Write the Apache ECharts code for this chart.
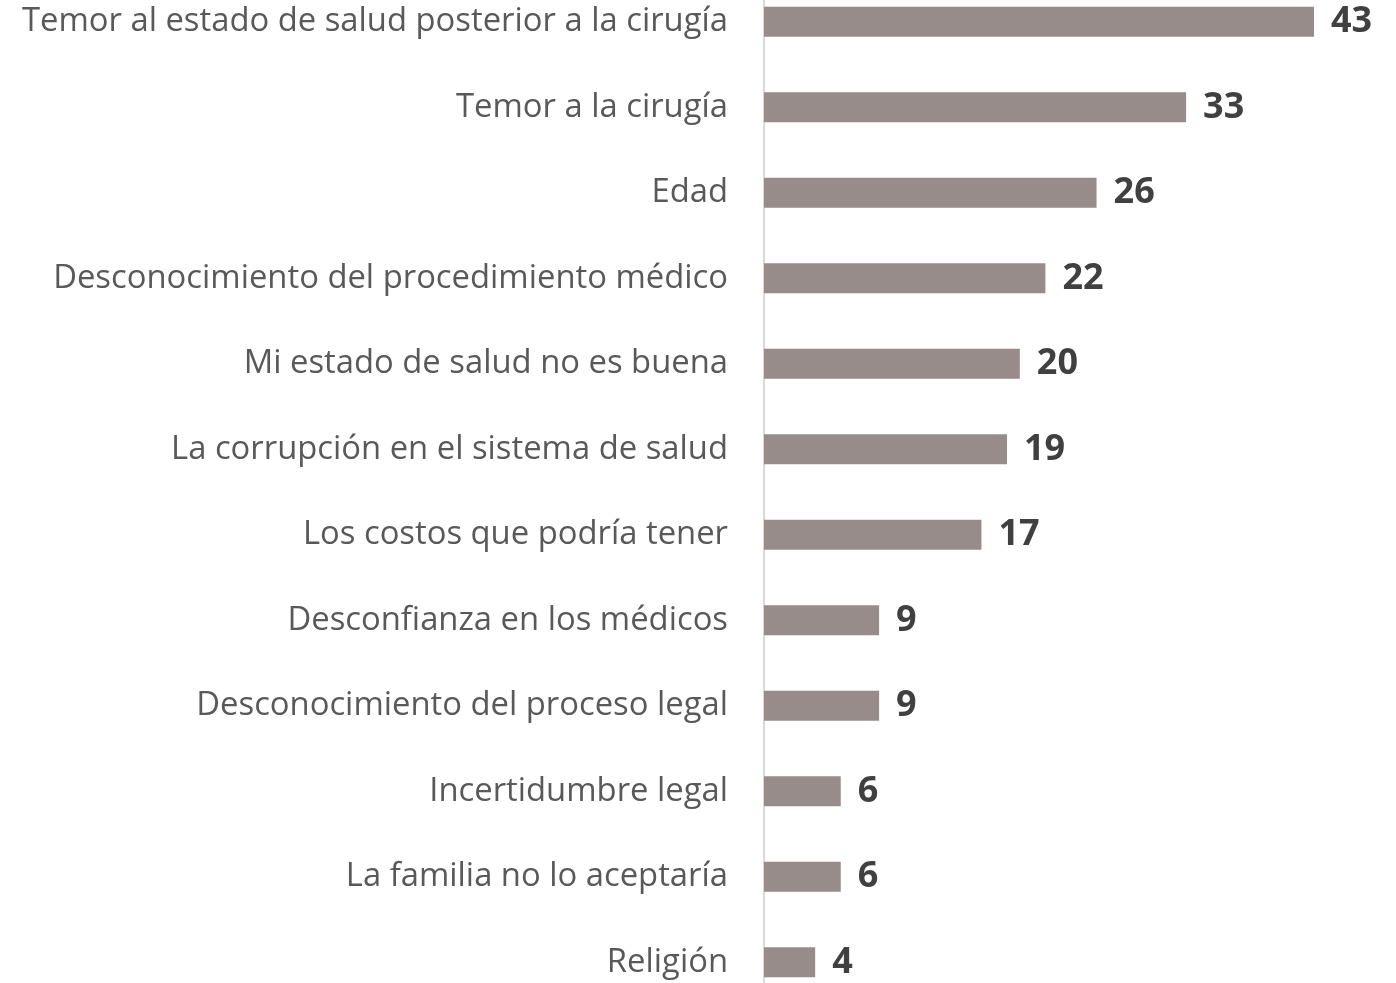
<!DOCTYPE html>
<html><head><meta charset="utf-8">
<script src="https://cdn.jsdelivr.net/npm/echarts@6/dist/echarts.min.js"></script>
<style>html,body{margin:0;padding:0;background:#fff;overflow:hidden;width:1396px;height:983px}#c{position:absolute;left:0;top:-21px;width:1396px;height:1026px}</style>
</head><body><div id="c"></div>
<script>
const categories = [
  "Temor al estado de salud posterior a la cirugía",
  "Temor a la cirugía",
  "Edad",
  "Desconocimiento del procedimiento médico",
  "Mi estado de salud no es buena",
  "La corrupción en el sistema de salud",
  "Los costos que podría tener",
  "Desconfianza en los médicos",
  "Desconocimiento del proceso legal",
  "Incertidumbre legal",
  "La familia no lo aceptaría",
  "Religión"
];
const values = [43, 33, 26, 22, 20, 19, 17, 9, 9, 6, 6, 4];

const chart = echarts.init(document.getElementById('c'));
chart.setOption({
  animation: false,
  grid: { left: 764, width: 550, top: 0, height: 1026, containLabel: false },
  xAxis: { type: 'value', min: 0, max: 43, show: false },
  yAxis: {
    type: 'category', data: categories, inverse: true,
    axisLine: { show: true, lineStyle: { color: '#d9d9d9', width: 2 } },
    axisTick: { show: false },
    axisLabel: { color: '#595959', fontSize: 32.8, fontFamily: 'Open Sans', margin: 36, padding: [4, 0, 0, 0] }
  },
  series: [{
    type: 'bar', data: values, barWidth: 30,
    itemStyle: { color: '#978c8a' },
    label: { show: true, position: 'right', distance: 17, color: '#404040', fontWeight: 'bold', fontSize: 36, fontFamily: 'Open Sans', padding: [4, 0, 0, 0] }
  }]
});
</script></body></html>
